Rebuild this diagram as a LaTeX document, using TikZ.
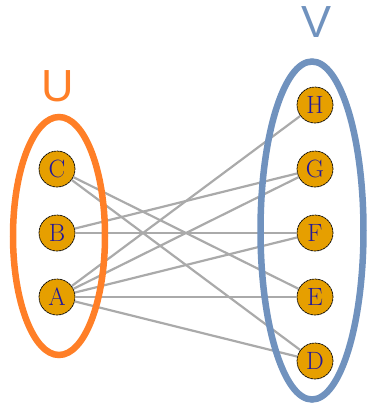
\documentclass[tikz,border=0pt]{standalone}
\usepackage{fontspec}
\usetikzlibrary{shapes.geometric}
\newfontfamily\setfont{Liberation Sans}
\definecolor{nodeorange}{HTML}{E69F00}
\definecolor{labelblue}{HTML}{22189A}
\definecolor{edgegray}{HTML}{AAAAAA}
\definecolor{uorange}{HTML}{FF7F27}
\definecolor{vblue}{HTML}{7092BE}
\begin{document}
\begin{tikzpicture}[x=1pt,y=-1pt,
  vertex/.style={circle, draw=black, line width=0.7pt, dash pattern=on 2.6pt off 0.6pt,
    fill=nodeorange, minimum size=36pt, inner sep=0pt,
    font=\fontsize{25}{25}\selectfont, text=labelblue},
  link/.style={draw=edgegray, line width=2.2pt},
  group/.style={ellipse, line width=6.5pt, inner sep=0pt},
  setname/.style={font=\setfont\fontsize{45}{45}\selectfont, inner sep=0pt}
]
\useasboundingbox (0,0) rectangle (371,408);

% vertices of the two parts
\node[vertex] (C) at (57,169) {C};
\node[vertex] (B) at (57,233) {B};
\node[vertex] (A) at (57,297) {A};
\node[vertex] (H) at (315,105) {H};
\node[vertex] (G) at (315,169) {G};
\node[vertex] (F) at (315,233) {F};
\node[vertex] (E) at (315,297) {E};
\node[vertex] (D) at (315,361) {D};

% edges between the parts
\foreach \s/\t in {C/E, C/D, B/G, B/F, A/H, A/G, A/F, A/E, A/D}
  \draw[link] (\s) -- (\t);

% the two vertex sets
\node[group, draw=uorange, minimum width=92pt, minimum height=238pt] (uset) at (59,236) {};
\node[group, draw=vblue, minimum width=103pt, minimum height=338pt] (vset) at (312,230.5) {};

\node[setname, text=uorange] (ulabel) at (58,86) {U};
\node[setname, text=vblue] (vlabel) at (317,22) {V};
\end{tikzpicture}
\end{document}
